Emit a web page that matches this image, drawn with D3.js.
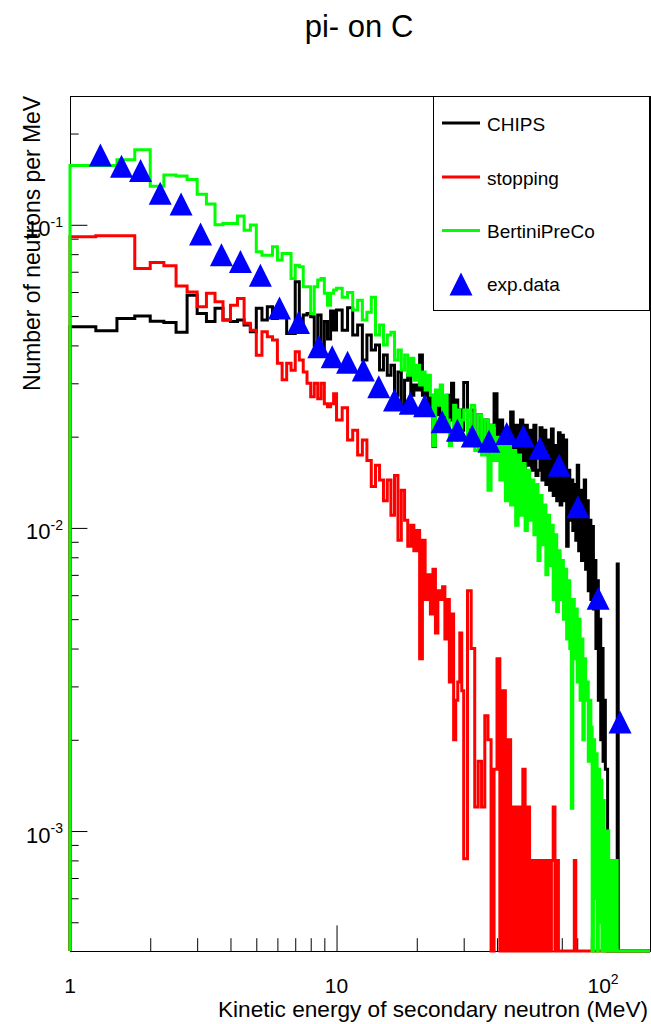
<!DOCTYPE html>
<html>
<head>
<meta charset="utf-8">
<script src="https://cdn.jsdelivr.net/npm/d3@7"></script>
<style>
  html, body { margin: 0; padding: 0; background: #fff; }
  svg { display: block; font-family: "Liberation Sans", Arial, Helvetica, sans-serif; }
</style>
</head>
<body>
<svg id="chart"></svg>
<script>
const width = 651;
const height = 1024;
const frame = { left: 70, right: 650, top: 96, bottom: 951 };

// energy binning (MeV): 0.25 wide up to 10, 0.5 up to 30, 1 up to 150
const binBreaks = [1, 10, 30, 150];
const binWidths = [0.25, 0.5, 1];

const seriesNames = ["CHIPS", "stopping", "BertiniPreCo"];
const seriesColors = ["#000000", "#ff0000", "#00ff00"];

const chipsValues = [
  // 1 - 10 MeV
  0.0461, 0.0447, 0.0491, 0.0500, 0.0481, 0.0476, 0.0442, 0.0586, 0.0510, 0.0480, 0.0530, 0.0485,
  0.0480, 0.0485, 0.0467, 0.0444, 0.0530, 0.0485, 0.0537, 0.0491, 0.0523, 0.0497, 0.0438, 0.0438,
  0.0649, 0.0473, 0.0504, 0.0510, 0.0497, 0.0400, 0.0504, 0.0390, 0.0480, 0.0420, 0.0520, 0.0450,
  // 10 - 30 MeV
  0.0523, 0.0449, 0.0533, 0.0433, 0.0467, 0.0358, 0.0433, 0.0386, 0.0401, 0.0332,
  0.0372, 0.0319, 0.0344, 0.0274, 0.0327, 0.0254, 0.0307, 0.0319, 0.0274, 0.0296,
  0.0285, 0.0372, 0.0274, 0.0296, 0.0245, 0.0274, 0.0186, 0.0264, 0.0236, 0.0264,
  0.0227, 0.0254, 0.0274, 0.0227, 0.0300, 0.0236, 0.0264, 0.0227, 0.0245, 0.0210,
  // 30 - 150 MeV
  0.0302, 0.0210, 0.0245, 0.0187, 0.0236, 0.0180, 0.0227, 0.0174, 0.0218, 0.0277,
  0.0180, 0.0227, 0.0174, 0.0195, 0.0167, 0.0241, 0.0161, 0.0218, 0.0167, 0.0227,
  0.0155, 0.0218, 0.0161, 0.0210, 0.0155, 0.0218, 0.0149, 0.0155, 0.0214, 0.0144,
  0.0210, 0.0139, 0.0195, 0.0133, 0.0212, 0.0128, 0.0187, 0.0123, 0.0206, 0.0119,
  0.0202, 0.0123, 0.0195, 0.0087, 0.0155, 0.0106, 0.0144, 0.0098, 0.0139, 0.0091,
  0.0161, 0.0084, 0.0133, 0.0078, 0.0128, 0.0144, 0.0073, 0.0123, 0.0062, 0.0106,
  0.0058, 0.0101, 0.0054, 0.0078, 0.0040, 0.0067, 0.0027, 0.0050, 0.0020, 0.0040,
  0.0017, 0.0027, 0.0016, 0.0016, 0, 0, 0, 0, 0, 0,
  0, 0, 0, 0.0076, 0, 0, 0, 0, 0, 0,
  0, 0, 0, 0, 0, 0, 0, 0, 0, 0,
  0, 0, 0, 0, 0, 0, 0, 0, 0, 0,
  0, 0, 0, 0, 0, 0, 0, 0, 0, 0
];

const stoppingValues = [
  // 1 - 10 MeV
  0.0913, 0.0920, 0.0920, 0.0718, 0.0751, 0.0732, 0.0628, 0.0600, 0.0537, 0.0594, 0.0557, 0.0485,
  0.0543, 0.0571, 0.0473, 0.0449, 0.0371, 0.0444, 0.0427, 0.0417, 0.0349, 0.0308, 0.0349, 0.0331,
  0.0381, 0.0358, 0.0327, 0.0300, 0.0271, 0.0300, 0.0267, 0.0300, 0.0257, 0.0251, 0.0257, 0.0277,
  // 10 - 30 MeV
  0.0227, 0.0249, 0.0195, 0.0210, 0.0174, 0.0195, 0.0167, 0.0137, 0.0161, 0.0144,
  0.0123, 0.0144, 0.0110, 0.0149, 0.0091, 0.0133, 0.0106, 0.0087, 0.0102, 0.0084,
  0.0098, 0.0037, 0.0091, 0.0058, 0.0070, 0.0052, 0.0073, 0.0045, 0.0062, 0.0058,
  0.0064, 0.0043, 0.0058, 0.0031, 0.0052, 0.0020, 0.0027, 0.0031, 0.0045, 0.0029,
  // 30 - 150 MeV
  0.00081, 0.0062, 0.0040, 0.0012, 0.0017, 0.0012, 0.0024, 0.0020, 0, 0.0016,
  0.0037, 0, 0.0029, 0, 0.0020, 0, 0.0012, 0, 0.0012, 0,
  0.0016, 0, 0.0012, 0, 0.0008, 0, 0.0008, 0, 0.0008, 0,
  0.0008, 0, 0.0008, 0, 0.0008, 0.0012, 0, 0.0008, 0, 0,
  0, 0, 0, 0, 0, 0, 0, 0, 0.0008, 0,
  0, 0, 0, 0, 0, 0, 0, 0, 0, 0,
  0, 0, 0, 0, 0, 0, 0, 0, 0, 0,
  0, 0, 0, 0, 0, 0, 0, 0, 0, 0,
  0, 0, 0, 0, 0, 0, 0, 0, 0, 0,
  0, 0, 0, 0, 0, 0, 0, 0, 0, 0,
  0, 0, 0, 0, 0, 0, 0, 0, 0, 0,
  0, 0, 0, 0, 0, 0, 0, 0, 0, 0
];

const bertiniValues = [
  // 1 - 10 MeV
  0.157, 0.157, 0.164, 0.177, 0.134, 0.146, 0.145, 0.141, 0.126, 0.117, 0.100, 0.101,
  0.101, 0.107, 0.096, 0.0998, 0.0815, 0.0794, 0.0794, 0.0846, 0.0765, 0.0804, 0.0804, 0.0665,
  0.0736, 0.0727, 0.0624, 0.0624, 0.0510, 0.0624, 0.0657, 0.0665, 0.0594, 0.0543, 0.0594, 0.0609,
  // 10 - 30 MeV
  0.0618, 0.0577, 0.0598, 0.0523, 0.0564, 0.0485, 0.0515, 0.0577, 0.0433, 0.0467,
  0.0401, 0.0433, 0.0442, 0.0358, 0.0386, 0.0332, 0.0372, 0.0319, 0.0363, 0.0307,
  0.0344, 0.0296, 0.0327, 0.0285, 0.0319, 0.0274, 0.0187, 0.0285, 0.0254, 0.0296,
  0.0236, 0.0274, 0.0227, 0.0187, 0.0210, 0.0254, 0.0195, 0.0245, 0.0202, 0.0227,
  // 30 - 150 MeV
  0.0245, 0.0187, 0.0254, 0.0180, 0.0236, 0.0174, 0.0227, 0.0133, 0.0218, 0.0167,
  0.0199, 0.0144, 0.0195, 0.0123, 0.0187, 0.0119, 0.0180, 0.0102, 0.0174, 0.0110,
  0.0163, 0.0098, 0.0155, 0.0106, 0.0144, 0.0095, 0.0139, 0.0078, 0.0128, 0.0088,
  0.0119, 0.0070, 0.0110, 0.0075, 0.0102, 0.0058, 0.0095, 0.0053, 0.0084, 0.0058,
  0.0078, 0.0050, 0.0073, 0.0043, 0.0067, 0.0040, 0.00119, 0.0058, 0.0037, 0.0054,
  0.0031, 0.0050, 0.0027, 0.0043, 0.0020, 0.0037, 0.0027, 0.0031, 0.0017, 0.0027,
  0.0022, 0, 0.0020, 0.0006, 0.0018, 0, 0.0016, 0.0005, 0.00147, 0,
  0.00126, 0, 0.0010, 0, 0.0010, 0, 0.0008, 0, 0.0008, 0,
  0.0008, 0, 0.0008, 0, 0, 0, 0, 0, 0, 0,
  0, 0, 0, 0, 0, 0, 0, 0, 0, 0,
  0, 0, 0, 0, 0, 0, 0, 0, 0, 0,
  0, 0, 0, 0, 0, 0, 0, 0, 0, 0
];

const expEnergy = [1.30, 1.56, 1.84, 2.18, 2.61, 3.09, 3.70, 4.36, 5.18, 6.11,
                   7.20, 8.58, 9.63, 11.0, 12.6, 14.4, 16.5, 18.9, 21.4, 24.9,
                   28.4, 32.3, 37.3, 43.5, 50.2, 58.0, 68.4, 80.5, 95.8, 115.8];
const expValues = [0.170, 0.156, 0.151, 0.127, 0.117, 0.0932, 0.0797, 0.0756, 0.0682, 0.0531,
                   0.0476, 0.0396, 0.0367, 0.0352, 0.0332, 0.0292, 0.0264, 0.0258, 0.0253, 0.0224,
                   0.0210, 0.0201, 0.0193, 0.0205, 0.0201, 0.0183, 0.0161, 0.01175, 0.00586, 0.00229];

const xDomain = [1, 150];
const yDomain = [4.02e-4, 0.266];
const xMajorTicks = [1, 10, 100];
const xTickBase = ["1", "10", "10"];
const xTickExp = ["", "", "2"];
const yMajorTicks = [1e-3, 1e-2, 1e-1];
const yTickBase = ["10", "10", "10"];
const yTickExp = ["-3", "-2", "-1"];

const binEdges = [];
binWidths.forEach((w, k) => {
  const n = Math.round((binBreaks[k + 1] - binBreaks[k]) / w);
  for (let i = 0; i < n; i++) binEdges.push(binBreaks[k] + i * w);
});
binEdges.push(binBreaks[binBreaks.length - 1]);

const svg = d3.select("#chart")
              .attr("width", width)
              .attr("height", height);

svg.append("rect").attr("width", width).attr("height", height).attr("fill", "#fff");

const xScale = d3.scaleLog().domain(xDomain).range([frame.left, frame.right]);
const yScale = d3.scaleLog().domain(yDomain).range([frame.bottom, frame.top]);

function minorTicks(domain, decades) {
  const out = [];
  decades.forEach(d => {
    for (let k = 2; k <= 9; k++) {
      const t = k * d;
      if (t >= domain[0] && t <= domain[1]) out.push(t);
    }
  });
  return out;
}

// frame
svg.append("rect")
   .attr("x", frame.left + 0.5)
   .attr("y", frame.top + 0.5)
   .attr("width", frame.right - frame.left)
   .attr("height", frame.bottom - frame.top)
   .attr("fill", "none")
   .attr("stroke", "#000")
   .attr("stroke-width", 1);

// axes, ticks pointing inward as in ROOT
const axisStyle = g => {
  g.selectAll("path, line").attr("stroke", "#000").attr("stroke-width", 1);
  g.selectAll("text").remove();
};

svg.append("g")
   .attr("transform", `translate(0, ${frame.bottom})`)
   .call(d3.axisBottom(xScale).tickValues(minorTicks(xDomain, [1, 10, 100]))
           .tickSize(-12.8).tickSizeOuter(0).tickFormat(""))
   .call(axisStyle);
svg.append("g")
   .attr("transform", `translate(0, ${frame.bottom})`)
   .call(d3.axisBottom(xScale).tickValues(xMajorTicks)
           .tickSize(-25.6).tickSizeOuter(0).tickFormat(""))
   .call(axisStyle);

svg.append("g")
   .attr("transform", `translate(${frame.left}, 0)`)
   .call(d3.axisLeft(yScale).tickValues(minorTicks(yDomain, [1e-4, 1e-3, 1e-2, 1e-1]))
           .tickSize(-8.7).tickSizeOuter(0).tickFormat(""))
   .call(axisStyle);
svg.append("g")
   .attr("transform", `translate(${frame.left}, 0)`)
   .call(d3.axisLeft(yScale).tickValues(yMajorTicks)
           .tickSize(-17.4).tickSizeOuter(0).tickFormat(""))
   .call(axisStyle);

// tick labels with superscripts
xMajorTicks.forEach((t, i) => {
  const txt = svg.append("text")
     .attr("x", xScale(t))
     .attr("y", 993)
     .attr("text-anchor", "middle")
     .attr("font-size", 21)
     .text(xTickBase[i]);
  if (xTickExp[i]) {
    txt.append("tspan").attr("dy", -9).attr("font-size", 14).text(xTickExp[i]);
  }
});

yMajorTicks.forEach((t, i) => {
  svg.append("text")
     .attr("x", 63)
     .attr("y", yScale(t) + 11.5)
     .attr("text-anchor", "end")
     .attr("font-size", 22)
     .text(yTickBase[i])
     .append("tspan").attr("dy", -9.5).attr("font-size", 14).text(yTickExp[i]);
});

// titles
svg.append("text")
   .attr("x", 359)
   .attr("y", 37)
   .attr("text-anchor", "middle")
   .attr("font-size", 31)
   .text("pi- on C");

svg.append("text")
   .attr("x", 648)
   .attr("y", 1017)
   .attr("text-anchor", "end")
   .attr("font-size", 22)
   .attr("textLength", 430)
   .attr("lengthAdjust", "spacingAndGlyphs")
   .text("Kinetic energy of secondary neutron (MeV)");

svg.append("text")
   .attr("transform", `translate(40, ${frame.top}) rotate(-90)`)
   .attr("text-anchor", "end")
   .attr("font-size", 24)
   .attr("textLength", 295)
   .attr("lengthAdjust", "spacingAndGlyphs")
   .text("Number of neutrons per MeV");

// histograms
svg.append("clipPath").attr("id", "frameClip")
   .append("rect")
   .attr("x", frame.left - 2)
   .attr("y", frame.top)
   .attr("width", frame.right - frame.left + 2)
   .attr("height", frame.bottom - frame.top + 2);

function histPoints(values) {
  const base = yScale(yDomain[0]);
  const pts = [[xScale(binEdges[0]), base]];
  values.forEach((v, i) => {
    const yy = yScale(Math.max(v, yDomain[0]));
    pts.push([xScale(binEdges[i]), yy], [xScale(binEdges[i + 1]), yy]);
  });
  pts.push([xScale(binEdges[values.length]), base]);
  return pts;
}

const line = d3.line();
const histGroup = svg.append("g").attr("clip-path", "url(#frameClip)");
[chipsValues, stoppingValues, bertiniValues].forEach((vals, k) => {
  histGroup.append("path")
     .attr("d", line(histPoints(vals)))
     .attr("fill", "none")
     .attr("stroke", seriesColors[k])
     .attr("stroke-width", 3)
     .attr("stroke-linejoin", "miter");
});

// experimental points: full triangles
const r = 11.5;
const triangle = (cx, cy) => line([[cx - r, cy + r], [cx + r, cy + r], [cx, cy - r]]) + "Z";

svg.append("g")
   .selectAll("path")
   .data(expEnergy.map((e, i) => [e, expValues[i]]))
   .enter()
   .append("path")
   .attr("d", d => triangle(xScale(d[0]), yScale(d[1])))
   .attr("fill", "#0000ff");

// legend
const legend = svg.append("g");
legend.append("rect")
      .attr("x", 433.5).attr("y", 96.5)
      .attr("width", 216).attr("height", 214)
      .attr("fill", "#fff").attr("stroke", "#000").attr("stroke-width", 1);

const legendRows = [123, 177, 230.5, 284];
seriesNames.forEach((name, k) => {
  legend.append("line")
        .attr("x1", 442).attr("x2", 480)
        .attr("y1", legendRows[k]).attr("y2", legendRows[k])
        .attr("stroke", seriesColors[k]).attr("stroke-width", 3);
  legend.append("text")
        .attr("x", 487).attr("y", legendRows[k] + 7.5)
        .attr("font-size", 19)
        .text(name);
});
legend.append("path")
      .attr("d", triangle(461, legendRows[3]))
      .attr("fill", "#0000ff");
legend.append("text")
      .attr("x", 487).attr("y", legendRows[3] + 7)
      .attr("font-size", 19)
      .text("exp.data");
</script>
</body>
</html>
